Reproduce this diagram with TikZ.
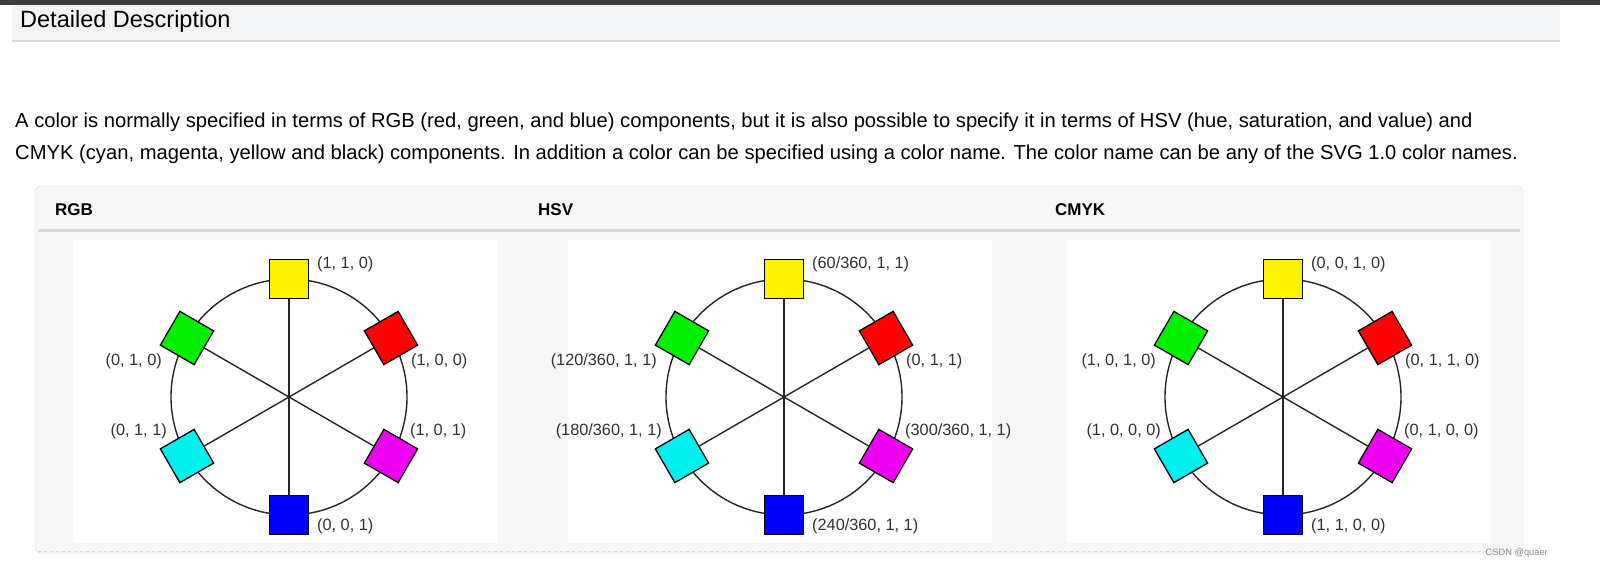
\documentclass[tikz,border=0pt]{standalone}
\usepackage{fontspec}
\setmainfont{Liberation Sans}
\usetikzlibrary{positioning, calc}
\definecolor{barDark}{RGB}{60, 60, 60}
\definecolor{headGray}{RGB}{242, 243, 244}
\definecolor{panelGray}{RGB}{247, 247, 247}
\definecolor{lineGray}{RGB}{218, 218, 218}
\definecolor{lblGray}{RGB}{50, 50, 50}
\definecolor{cyanSq}{RGB}{0, 240, 240}
\definecolor{greenSq}{RGB}{0, 240, 0}
\definecolor{magentaSq}{RGB}{240, 0, 240}
\tikzset{
  sq/.style={draw=black, line width=1.3pt, minimum size=39pt, inner sep=0pt},
  lbl/.style={font=\fontsize{16.3}{16.3}\selectfont, text=lblGray, inner sep=0pt},
  spoke/.style={line width=1.4pt, black!85},
  panelhead/.style={font=\fontsize{17}{17}\selectfont\bfseries, anchor=west, inner sep=0pt}
}
% #1 prefix, #2 center x, #3..#8 labels: yellow, red, magenta, blue, cyan, green
\newcommand{\colorwheel}[8]{
  \coordinate (#1c) at (#2, 397);
  \fill[white] ($(#1c)+(-216,-157)$) rectangle ($(#1c)+(208,146)$);
  \draw[spoke] (#1c) circle (118);
  \node[sq, fill=yellow] (#1y) at ($(#1c)+(0,-118)$) {};
  \node[sq, fill=red, rotate=30] (#1r) at ($(#1c)+(102,-59)$) {};
  \node[sq, fill=magentaSq, rotate=-30] (#1m) at ($(#1c)+(102,59)$) {};
  \node[sq, fill=blue] (#1b) at ($(#1c)+(0,118)$) {};
  \node[sq, fill=cyanSq, rotate=30] (#1cy) at ($(#1c)+(-102,59)$) {};
  \node[sq, fill=greenSq, rotate=-30] (#1g) at ($(#1c)+(-102,-59)$) {};
  \draw[spoke] (#1y) -- (#1b);
  \draw[spoke] (#1r) -- (#1cy);
  \draw[spoke] (#1g) -- (#1m);
  \node[lbl, anchor=west] (#1yl) at ($(#1c)+(28,-133)$) {#3};
  \node[lbl, anchor=west] (#1rl) at ($(#1c)+(122,-36)$) {#4};
  \node[lbl, anchor=west] (#1ml) at ($(#1c)+(121,34)$) {#5};
  \node[lbl, anchor=west] (#1bl) at ($(#1c)+(28,129)$) {#6};
  \node[lbl, anchor=east] (#1cl) at ($(#1c)+(-122,34)$) {#7};
  \node[lbl, anchor=east] (#1gl) at ($(#1c)+(-127,-36)$) {#8};
}
\begin{document}
\begin{tikzpicture}[x=1pt, y=-1pt]
  \fill[white] (0,0) rectangle (1600,579);
  % Page header
  \fill[barDark] (0,0) rectangle (1600,5);
  \fill[headGray] (12,5) rectangle (1560,40);
  \draw[lineGray, line width=1.5pt] (12,41) -- (1560,41);
  \node[font=\fontsize{23.5}{23.5}\selectfont, anchor=west, inner sep=0pt] (title) at (20,21) {Detailed Description};

  % Intro text
  \node[font=\fontsize{20.2}{32}\selectfont, anchor=north west, align=left, inner sep=0pt] (intro) at (15,113) {A color is normally specified in terms of RGB (red, green, and blue) components, but it is also possible to specify it in terms of HSV (hue, saturation, and value) and\\CMYK (cyan, magenta, yellow and black) components. In addition a color can be specified using a color name. The color name can be any of the SVG 1.0 color names.};

  % Panel
  \filldraw[fill=panelGray, draw=lineGray, rounded corners=6pt] (35,186) rectangle (1523,553);
  \draw[lineGray, line width=3pt] (38,230) -- (1520,230);
  \draw[lineGray, dashed, line width=1pt] (38,551) -- (1520,551);
  \node[panelhead] (rgbh) at (55,210) {RGB};
  \node[panelhead] (hsvh) at (538,210) {HSV};
  \node[panelhead] (cmykh) at (1055,210) {CMYK};

  % Wheels
  \colorwheel{a}{289}{(1, 1, 0)}{(1, 0, 0)}{(1, 0, 1)}{(0, 0, 1)}{(0, 1, 1)}{(0, 1, 0)}
  \colorwheel{h}{784}{(60/360, 1, 1)}{(0, 1, 1)}{(300/360, 1, 1)}{(240/360, 1, 1)}{(180/360, 1, 1)}{(120/360, 1, 1)}
  \colorwheel{k}{1283}{(0, 0, 1, 0)}{(0, 1, 1, 0)}{(0, 1, 0, 0)}{(1, 1, 0, 0)}{(1, 0, 0, 0)}{(1, 0, 1, 0)}

  \node[font=\fontsize{9.3}{9.3}\selectfont, text=black!45, anchor=east, inner sep=0pt] (mark) at (1548,553) {CSDN @quaer};
  \pgfresetboundingbox
  \useasboundingbox (0,0) rectangle (1600,579);
\end{tikzpicture}
\end{document}
